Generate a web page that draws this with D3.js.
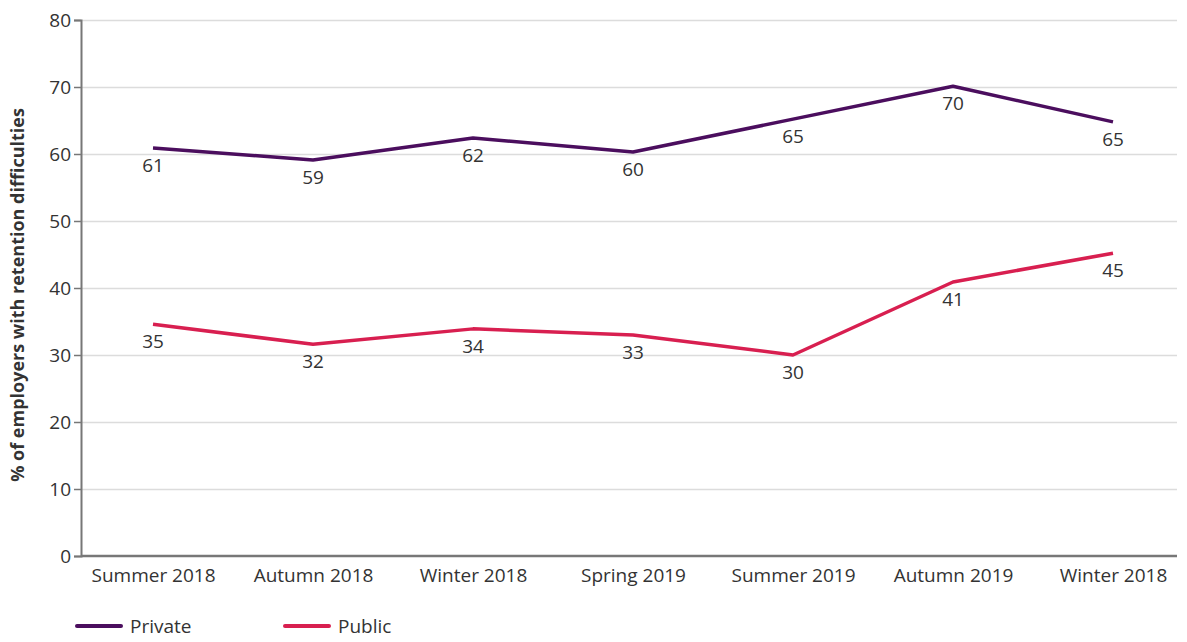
<!DOCTYPE html>
<meta charset="utf-8">
<style>
    body { margin: 0; background: #fff; }
    svg text { font-family: "Open Sans", "Lato", sans-serif; fill: #333; }
    .grid line { stroke: #dcdcdc; stroke-width: 1.5; }
    .grid path { display: none; }
    .axis text { font-size: 19px; }
</style>
<svg width="1187" height="642"></svg>
<script src="https://d3js.org/d3.v7.min.js"></script>
<script>

    var periods = ["Summer 2018", "Autumn 2018", "Winter 2018", "Spring 2019", "Summer 2019", "Autumn 2019", "Winter 2018 "];
    var privateVals = [60.9, 59.1, 62.4, 60.3, 65.2, 70.1, 64.8];
    var publicVals = [34.6, 31.6, 33.9, 33.0, 30.0, 40.9, 45.2];
    var yTicks = [0, 10, 20, 30, 40, 50, 60, 70, 80];

    var series = [
        {name: "Private", values: privateVals, color: "#4b0e5e"},
        {name: "Public", values: publicVals, color: "#d81f50"}
    ];

    var svg = d3.select("svg"),
            margin = {top: 20, left: 81},
            width = 1096,
            height = 536;

    var g = svg.append("g").attr("transform", "translate(" + margin.left + "," + margin.top + ")");

    var x = d3.scalePoint()
            .domain(periods)
            .range([0, 1104])
            .padding(0.45);

    var y = d3.scaleLinear()
            .domain([0, 80])
            .range([height, 0]);

    // gridlines
    g.append("g")
            .attr("class", "grid")
            .call(d3.axisLeft(y).tickValues(yTicks.slice(1)).tickSize(-width).tickFormat(""));

    // y axis
    var ya = g.append("g")
            .attr("class", "axis")
            .call(d3.axisLeft(y).tickValues(yTicks).tickSize(7).tickPadding(3));
    ya.select(".domain").attr("stroke", "#777").attr("stroke-width", 2);
    ya.selectAll(".tick line").attr("stroke", "#777").attr("stroke-width", 1.5);

    // x axis
    var xa = g.append("g")
            .attr("class", "axis")
            .attr("transform", "translate(0," + height + ")")
            .call(d3.axisBottom(x).tickSize(0).tickPadding(13));
    xa.select(".domain").attr("d", "M0,0H" + width).attr("stroke", "#777").attr("stroke-width", 2.5);

    svg.append("text")
            .attr("transform", "translate(24,295) rotate(-90)")
            .attr("text-anchor", "middle")
            .style("font-size", "18px")
            .style("font-weight", "bold")
            .text("% of employers with retention difficulties");

    var line = d3.line()
            .x(function(d, i) { return x(periods[i]); })
            .y(function(d) { return y(d); });

    series.forEach(function(s) {
        g.append("path")
                .datum(s.values)
                .attr("fill", "none")
                .attr("stroke", s.color)
                .attr("stroke-width", 3.5)
                .attr("stroke-linejoin", "round")
                .attr("d", line);

        g.selectAll(null)
                .data(s.values)
                .enter().append("text")
                .attr("x", function(d, i) { return x(periods[i]); })
                .attr("y", function(d) { return y(d) + 24; })
                .attr("text-anchor", "middle")
                .style("font-size", "19px")
                .text(function(d) { return Math.round(d); });
    });

    // legend
    var legend = svg.append("g").attr("transform", "translate(77,626)");
    var item = legend.selectAll("g")
            .data(series)
            .enter().append("g")
            .attr("transform", function(d, i) { return "translate(" + (i * 208) + ",0)"; });
    item.append("line")
            .attr("x1", 0).attr("x2", 44)
            .attr("stroke", function(d) { return d.color; })
            .attr("stroke-width", 4)
            .attr("stroke-linecap", "round");
    item.append("text")
            .attr("x", 53)
            .attr("dy", "0.35em")
            .style("font-size", "19px")
            .text(function(d) { return d.name; });

</script>
